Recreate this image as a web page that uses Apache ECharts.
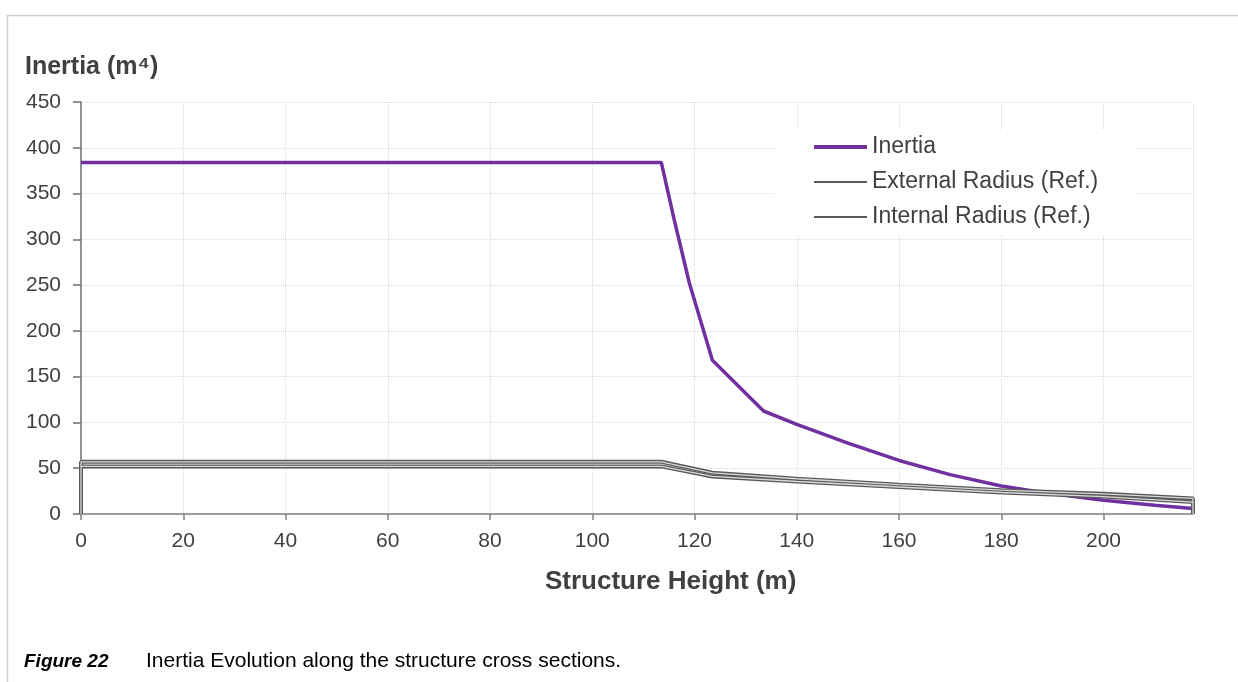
<!DOCTYPE html>
<html>
<head>
<meta charset="utf-8">
<title>Inertia Evolution</title>
<script src="https://cdn.jsdelivr.net/npm/echarts@6/dist/echarts.min.js"></script>
<style>
  html, body { margin: 0; padding: 0; background: #fff; }
  #chart { width: 1238px; height: 682px; }
</style>
</head>
<body>
<div id="chart"></div>
<script>
// structure height (m) / value pairs
const inertiaHeights = [0, 113.5, 116, 119, 123.5, 133.5, 140, 150, 160, 170, 180, 190, 200, 210, 217.5]
const inertiaValues = [384, 384, 322, 252, 168, 112.5, 98, 77.5, 58.5, 43, 30.5, 22, 15, 9.5, 6]

const externalHeights = [0, 0, 113.5, 123.5, 140, 160, 180, 200, 217.5, 217.5]
const externalValues = [0, 57, 57, 45, 38.5, 32, 26, 22, 17, 0]

const internalHeights = [0, 113.5, 123.5, 140, 160, 180, 200, 217.5]
const internalValues = [52, 52, 41, 35.5, 29.5, 23.5, 19, 13]

const xTicks = { min: 0, max: 217.5, interval: 20 }
const yTicks = { min: 0, max: 450, interval: 50 }

const FONT = '"Liberation Sans", Arial, sans-serif'
const TEXT = '#404040'
const PURPLE = '#7030a0'
const DARK = '#595959'
const LIGHT = '#d9d9d9'

const pairs = (xs, ys) => xs.map((x, i) => [x, ys[i]])

// plain line icons for the legend (hairline rects keep the 53x14 box)
const lineIcon = (y0, h) =>
  'path://M0,0h53v0.01h-53z M0,' + y0 + 'h53v' + h + 'h-53z M0,13.99h53v0.01h-53z'

const chart = echarts.init(document.getElementById('chart'))

chart.setOption({
  backgroundColor: '#fff',
  animation: false,
  textStyle: { fontFamily: FONT },
  grid: { left: 81, right: 45, top: 102, bottom: 168 },
  legend: {
    orient: 'vertical',
    left: 775,
    top: 129,
    padding: [6, 39, 6, 39],
    backgroundColor: '#fff',
    itemWidth: 53,
    itemHeight: 14,
    itemGap: 11,
    symbolKeepAspect: false,
    textStyle: { color: TEXT, fontSize: 23, lineHeight: 24, fontFamily: FONT },
    data: [
      { name: 'Inertia', icon: lineIcon(5, 4), itemStyle: { color: PURPLE, borderWidth: 0 } },
      { name: 'External Radius (Ref.)', icon: lineIcon(6, 2), itemStyle: { color: DARK, borderWidth: 0 } },
      { name: 'Internal Radius (Ref.)', icon: lineIcon(6, 2), itemStyle: { color: DARK, borderWidth: 0 } }
    ]
  },
  xAxis: {
    type: 'value',
    min: xTicks.min,
    max: xTicks.max,
    interval: xTicks.interval,
    axisLine: { onZero: false, lineStyle: { color: '#808080', width: 1.5 } },
    axisTick: { show: true, length: 6, lineStyle: { color: '#808080', width: 1.5 } },
    axisLabel: { color: TEXT, fontSize: 21, margin: 17, showMaxLabel: false },
    splitLine: { show: true, lineStyle: { color: LIGHT, type: 'dotted', width: 1 } }
  },
  yAxis: {
    type: 'value',
    min: yTicks.min,
    max: yTicks.max,
    interval: yTicks.interval,
    axisLine: { show: true, lineStyle: { color: '#707070', width: 1.5 } },
    axisTick: { show: true, length: 8, lineStyle: { color: '#707070', width: 1.5 } },
    axisLabel: { color: TEXT, fontSize: 21, margin: 20 },
    splitLine: { show: true, lineStyle: { color: LIGHT, type: 'dotted', width: 1 } }
  },
  series: [
    {
      name: 'Inertia',
      type: 'line',
      symbol: 'none',
      data: pairs(inertiaHeights, inertiaValues),
      lineStyle: { color: PURPLE, width: 3.5 },
      itemStyle: { color: PURPLE },
      z: 2
    },
    {
      name: 'External Radius (Ref.)',
      type: 'line',
      symbol: 'none',
      data: pairs(externalHeights, externalValues),
      lineStyle: { color: DARK, width: 4 },
      itemStyle: { color: DARK },
      z: 3
    },
    {
      // light core of the outlined radius line
      name: 'external-core',
      type: 'line',
      symbol: 'none',
      silent: true,
      data: pairs(externalHeights, externalValues),
      lineStyle: { color: LIGHT, width: 1.3 },
      z: 4
    },
    {
      name: 'Internal Radius (Ref.)',
      type: 'line',
      symbol: 'none',
      data: pairs(internalHeights, internalValues),
      lineStyle: { color: DARK, width: 4 },
      itemStyle: { color: DARK },
      z: 3
    },
    {
      name: 'internal-core',
      type: 'line',
      symbol: 'none',
      silent: true,
      data: pairs(internalHeights, internalValues),
      lineStyle: { color: LIGHT, width: 1.3 },
      z: 4
    }
  ],
  graphic: [
    {
      type: 'rect',
      silent: true,
      shape: { x: 7.5, y: 15.5, width: 1240, height: 700 },
      style: { fill: 'none', stroke: '#d0d0d0', lineWidth: 1.5 }
    },
    {
      type: 'text',
      left: 25,
      top: 55,
      style: { text: 'Inertia (m\u2074)', font: 'bold 25px ' + FONT, fill: TEXT }
    },
    {
      type: 'text',
      left: 545,
      top: 569,
      style: { text: 'Structure Height (m)', font: 'bold 26px ' + FONT, fill: TEXT }
    },
    {
      type: 'text',
      left: 24,
      top: 652,
      style: { text: 'Figure 22', font: 'italic bold 19px ' + FONT, fill: '#000' }
    },
    {
      type: 'text',
      left: 146,
      top: 651,
      style: { text: 'Inertia Evolution along the structure cross sections.', font: '21px ' + FONT, fill: '#000' }
    }
  ]
})

window.addEventListener('resize', () => chart.resize())
</script>
</body>
</html>
